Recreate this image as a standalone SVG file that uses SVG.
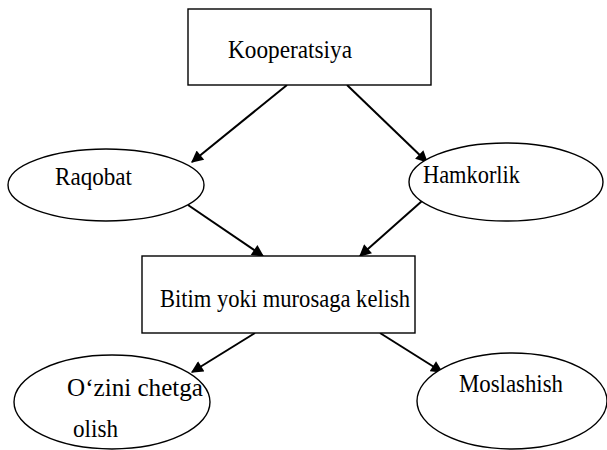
<svg xmlns="http://www.w3.org/2000/svg" width="607" height="450" viewBox="0 0 607 450">
<style>
.box{fill:#fff;stroke:#000;stroke-width:1.4}
.t{font-family:"Liberation Serif","Times New Roman",serif;font-size:25px;fill:#000}
.c{stroke:#000;stroke-width:2;fill:none;marker-end:url(#ah)}
</style>
<defs>
<marker id="ah" viewBox="0 0 10 10" refX="9" refY="5" markerWidth="6.5" markerHeight="6" markerUnits="strokeWidth" orient="auto">
<path d="M0,0 L10,5 L0,10 z" fill="#000"/>
</marker>
</defs>
<rect width="607" height="450" fill="#fff"/>
<g id="connectors">
<line class="c" x1="287" y1="85" x2="192" y2="162"/>
<line class="c" x1="347" y1="85" x2="427" y2="162"/>
<line class="c" x1="188" y1="205" x2="263" y2="256"/>
<line class="c" x1="422" y1="201" x2="360" y2="256"/>
<line class="c" x1="255" y1="333" x2="192" y2="372"/>
<line class="c" x1="380" y1="333" x2="442" y2="372"/>
</g>
<g id="kooperatsiya">
<rect class="box" x="188" y="9" width="243" height="76"/>
<text class="t" x="228" y="58" textLength="124" lengthAdjust="spacingAndGlyphs">Kooperatsiya</text>
</g>
<g id="raqobat">
<ellipse class="box" cx="106" cy="185" rx="98" ry="36"/>
<text class="t" x="55" y="185" textLength="77" lengthAdjust="spacingAndGlyphs">Raqobat</text>
</g>
<g id="hamkorlik">
<ellipse class="box" cx="506" cy="182" rx="97" ry="39"/>
<text class="t" x="423" y="183" textLength="97" lengthAdjust="spacingAndGlyphs">Hamkorlik</text>
</g>
<g id="bitim">
<rect class="box" x="142" y="256" width="273" height="77"/>
<text class="t" x="160" y="307" textLength="250" lengthAdjust="spacingAndGlyphs">Bitim yoki murosaga kelish</text>
</g>
<g id="ozini">
<ellipse class="box" cx="112" cy="402" rx="98" ry="47"/>
<text class="t" x="67" y="396" textLength="136" lengthAdjust="spacingAndGlyphs">O‘zini chetga</text>
<text class="t" x="73" y="437" textLength="45" lengthAdjust="spacingAndGlyphs">olish</text>
</g>
<g id="moslashish">
<ellipse class="box" cx="512" cy="401" rx="95" ry="48"/>
<text class="t" x="459" y="392" textLength="104" lengthAdjust="spacingAndGlyphs">Moslashish</text>
</g>
</svg>
